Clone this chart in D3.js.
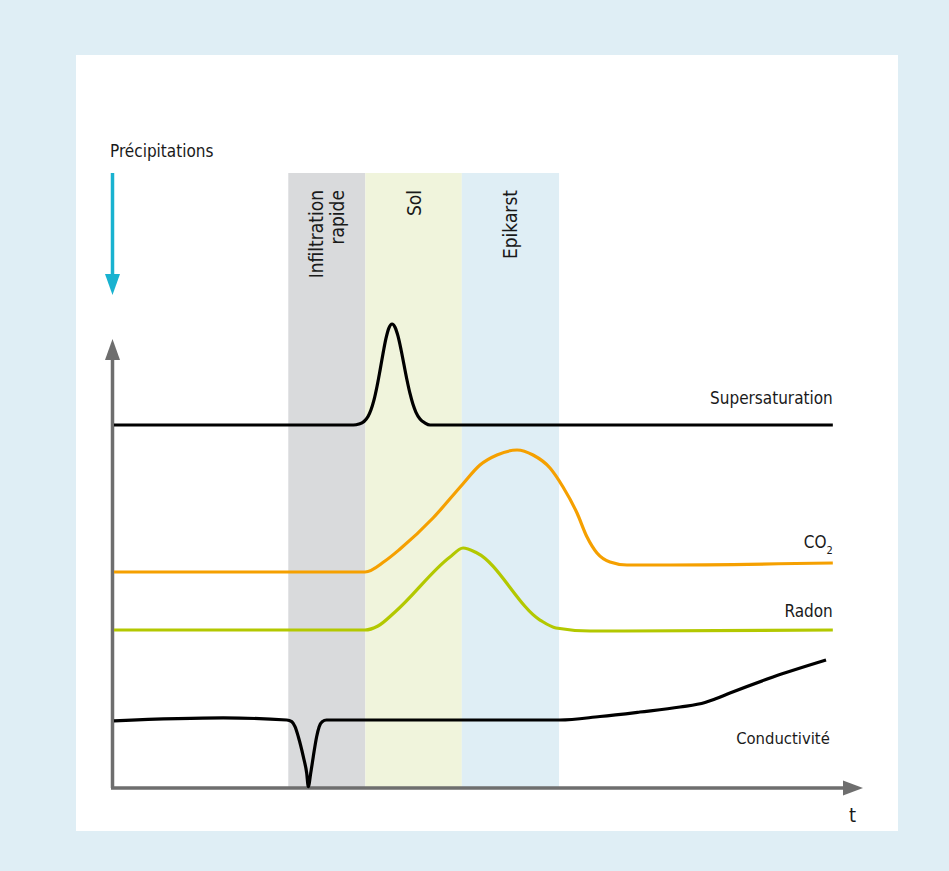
<!DOCTYPE html>
<html>
<head>
<meta charset="utf-8">
<script src="https://cdn.jsdelivr.net/npm/d3@7"></script>
<style>
  html, body { margin: 0; padding: 0; background: #dfeef5; }
  svg { display: block; }
  text { font-family: "DejaVu Sans Condensed", "Liberation Sans Narrow", "Roboto", sans-serif; fill: #1a1a1a; }
</style>
</head>
<body>
<script>
// ---------- DATA ----------
const bandLabels = [["Infiltration", "rapide"], ["Sol"], ["Epikarst"]];
const bandStart = [23.3, 33.6, 46.5];
const bandEnd   = [33.6, 46.5, 59.5];
const bandColors = ["#d9dadc", "#f0f4dc", "#dfeef5"];

const seriesNames = ["Supersaturation", "CO2", "Radon", "Conductivité"];

const superT = [0, 32.0, 32.75, 33.42, 33.96, 34.36, 34.76, 35.16, 35.56, 35.96, 36.36, 36.76, 37.17,
                37.57, 37.97, 38.37, 38.77, 39.17, 39.57, 39.97, 40.37, 40.91, 41.58, 42.25, 96.1];
const superV = [77.23, 77.23, 77.43, 77.98, 79.04, 80.47, 82.57, 85.43, 88.81, 92.40, 95.66, 97.91, 98.72,
                98.04, 96.13, 93.30, 90.04, 86.81, 83.94, 81.64, 79.94, 78.51, 77.66, 77.23, 77.23];

const co2T = [0, 33.56, 36.23, 38.24, 42.65, 46.52, 48.93, 51.20, 53.88, 56.02, 58.29, 60.03, 61.90, 63.24, 64.57, 66.31, 68.58, 72.99, 96.1];
const co2V = [45.96, 45.96, 48.30, 50.85, 57.45, 64.47, 68.72, 70.85, 71.91, 70.85, 68.09, 64.04, 58.51, 53.40, 50.0, 48.09, 47.45, 47.45, 47.87];

const radonT = [0, 33.56, 35.29, 37.57, 44.92, 46.66, 48.53, 56.95, 59.09, 63.64, 96.1];
const radonV = [33.62, 33.62, 34.47, 37.45, 49.15, 51.06, 50.0, 35.74, 34.04, 33.40, 33.62];

const condT = [0, 14.6, 23.09, 23.76, 24.20, 24.64, 25.31, 25.76, 25.98, 26.30, 26.64, 27.09, 27.43, 27.83, 28.42,
               59.6, 64.97, 70.32, 75.67, 79.01, 80.35, 82.35, 88.10, 95.19];
const condV = [14.3, 14.9, 14.47, 14.11, 13.04, 10.91, 6.66, 3.19, 0.28, 3.19, 6.66, 10.91, 13.04, 14.11, 14.47,
               14.47, 15.21, 16.17, 17.23, 18.19, 18.94, 20.21, 23.62, 27.23];

const seriesColors = ["#000000", "#f5a000", "#b3c800", "#000000"];

// ---------- LAYOUT ----------
const W = 949, H = 871;
const svg = d3.select("body").append("svg").attr("width", W).attr("height", H);

svg.append("rect").attr("x", 0).attr("y", 0).attr("width", W).attr("height", H).attr("fill", "#dfeef5");
svg.append("rect").attr("x", 76).attr("y", 55).attr("width", 822).attr("height", 776).attr("fill", "#ffffff");

const x = d3.scaleLinear().domain([0, 100]).range([114, 862]);
const y = d3.scaleLinear().domain([0, 100]).range([788, 318]);

const bandTop = 173, axisY = 788, axisX = 112.5;

// bands
const bands = bandStart.map((s, i) => ({ s, e: bandEnd[i], label: bandLabels[i], color: bandColors[i] }));
svg.selectAll("rect.band").data(bands).enter().append("rect")
  .attr("class", "band")
  .attr("x", d => x(d.s)).attr("y", bandTop)
  .attr("width", d => x(d.e) - x(d.s)).attr("height", axisY - bandTop)
  .attr("fill", d => d.color);

// band labels (rotated)
bands.forEach(d => {
  const cx = (x(d.s) + x(d.e)) / 2;
  const n = d.label.length;
  const lh = 21;
  d.label.forEach((t, j) => {
    const bx = cx + 7 + (j - (n - 1) / 2) * lh;
    svg.append("text")
      .attr("transform", `translate(${bx},190) rotate(-90)`)
      .attr("text-anchor", "end")
      .attr("font-size", 19)
      .text(t);
  });
});

// axes
const axisColor = "#6e6e6e";
svg.append("line").attr("x1", axisX).attr("y1", axisY).attr("x2", axisX).attr("y2", 352)
  .attr("stroke", axisColor).attr("stroke-width", 3.5);
svg.append("path").attr("d", `M${axisX},339 L${axisX + 7.5},360 L${axisX - 7.5},360 Z`).attr("fill", axisColor);
svg.append("line").attr("x1", axisX - 1.5).attr("y1", axisY).attr("x2", 850).attr("y2", axisY)
  .attr("stroke", axisColor).attr("stroke-width", 3.5);
svg.append("path").attr("d", `M863,${axisY} L843,${axisY - 7.5} L843,${axisY + 7.5} Z`).attr("fill", axisColor);

// t label
svg.append("text").attr("x", 852.5).attr("y", 822).attr("text-anchor", "middle").attr("font-size", 20).text("t");

// precipitation arrow
const precColor = "#19b2d0";
svg.append("line").attr("x1", axisX).attr("y1", 173).attr("x2", axisX).attr("y2", 280)
  .attr("stroke", precColor).attr("stroke-width", 3.5);
svg.append("path").attr("d", `M${axisX},295 L${axisX + 7.5},274 L${axisX - 7.5},274 Z`).attr("fill", precColor);
svg.append("text").attr("x", 110).attr("y", 157).attr("font-size", 17).text("Précipitations");

// series lines
const series = [
  { t: superT, v: superV },
  { t: co2T, v: co2V },
  { t: radonT, v: radonV },
  { t: condT, v: condV }
];
const line = d3.line().x(d => x(d[0])).y(d => y(d[1])).curve(d3.curveMonotoneX);
series.forEach((s, i) => {
  const pts = s.t.map((t, k) => [t, s.v[k]]);
  svg.append("path").attr("d", line(pts))
    .attr("fill", "none").attr("stroke", seriesColors[i])
    .attr("stroke-width", 3.2).attr("stroke-linejoin", "round");
});

// series labels
const labelX = x(96.1);
svg.append("text").attr("x", labelX).attr("y", 404).attr("text-anchor", "end").attr("font-size", 17).text(seriesNames[0]);
const co2Label = svg.append("text").attr("x", labelX).attr("y", 548).attr("text-anchor", "end").attr("font-size", 17);
co2Label.append("tspan").text("CO");
co2Label.append("tspan").attr("font-size", 11).attr("dy", 6).text("2");
svg.append("text").attr("x", labelX).attr("y", 617).attr("text-anchor", "end").attr("font-size", 17).text(seriesNames[2]);
svg.append("text").attr("x", labelX - 3).attr("y", 744).attr("text-anchor", "end").attr("font-size", 16.5).text(seriesNames[3]);
</script>
</body>
</html>
